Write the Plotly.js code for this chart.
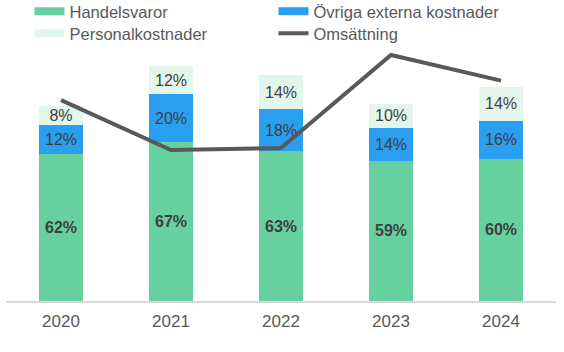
<!DOCTYPE html>
<html>
<head>
<meta charset="utf-8">
<script src="https://cdn.plot.ly/plotly-3.0.1.min.js"></script>
<style>html,body{margin:0;padding:0;background:#fff;}#chart{width:564px;height:352px;}</style>
</head>
<body>
<div id="chart"></div>
<script>
// Data
const years = ['2020', '2021', '2022', '2023', '2024'];
const handelsvaror = [62, 67, 63, 59, 60];          // % of revenue
const ovrigaExterna = [12, 20, 18, 14, 16];         // % of revenue
const personalkostnader = [8, 12, 14, 10, 14];      // % of revenue
const omsattning = [84.6, 63.6, 64.4, 103.6, 92.8]; // revenue (relative scale, secondary axis)

const cGreen = '#66D19E';
const cBlue = '#2B9FEF';
const cLight = '#E2F6EC';
const cLine = '#595959';
const txt = '#404040';
const FONT = 'Liberation Sans, Arial, sans-serif';

const pct = a => a.map(v => v + '%');

function barTrace(name, vals, color, bold) {
  return {
    type: 'bar', name: name, x: years, y: vals,
    marker: {color: color, line: {width: 0}},
    text: pct(vals), textposition: 'inside', insidetextanchor: 'middle',
    textangle: 0, constraintext: 'none',
    textfont: {family: FONT, size: 16, color: txt, weight: bold ? 'bold' : 'normal'},
    showlegend: false, hoverinfo: 'x+y+name'
  };
}

const traces = [
  barTrace('Handelsvaror', handelsvaror, cGreen, true),
  barTrace('Övriga externa kostnader', ovrigaExterna, cBlue, false),
  barTrace('Personalkostnader', personalkostnader, cLight, false),
  {
    type: 'scatter', mode: 'lines', name: 'Omsättning', x: years, y: omsattning,
    yaxis: 'y2', line: {color: cLine, width: 4}, showlegend: false
  },
  // legend entries (Excel-style wide swatches), two rows
  {type: 'scatter', mode: 'lines', name: 'Handelsvaror', x: [null], y: [null], line: {color: cGreen, width: 8}, legend: 'legend'},
  {type: 'scatter', mode: 'lines', name: 'Övriga externa kostnader', x: [null], y: [null], line: {color: cBlue, width: 8}, legend: 'legend'},
  {type: 'scatter', mode: 'lines', name: 'Personalkostnader', x: [null], y: [null], line: {color: cLight, width: 8}, legend: 'legend2'},
  {type: 'scatter', mode: 'lines', name: 'Omsättning', x: [null], y: [null], line: {color: cLine, width: 4}, legend: 'legend2'}
];

const plotTop = 0, plotBottom = 301, plotL = 5.5, plotR = 555.7;
const pxPerPct = 2.375;
const plotH = plotBottom - plotTop, plotW = plotR - plotL;

function legendAt(leftPx, topPx) {
  return {
    orientation: 'h', xref: 'paper', yref: 'paper',
    x: (leftPx - plotL) / plotW, y: (plotBottom - topPx) / plotH,
    xanchor: 'left', yanchor: 'top',
    entrywidth: 199, entrywidthmode: 'pixels',
    traceorder: 'normal', bgcolor: 'rgba(0,0,0,0)',
    font: {family: FONT, size: 16.5, color: '#595959'}
  };
}

const layout = {
  width: 564, height: 352,
  margin: {l: plotL, r: 564 - plotR, t: plotTop, b: 352 - plotBottom, autoexpand: false},
  paper_bgcolor: '#fff', plot_bgcolor: '#fff',
  barmode: 'stack', bargap: 0.6,
  font: {family: FONT, color: '#595959'},
  xaxis: {
    type: 'category', showline: true, linecolor: '#d9d9d9', linewidth: 2,
    ticks: '', showgrid: false, zeroline: false, ticklabelstandoff: 4,
    tickfont: {family: FONT, size: 17, color: '#595959'}
  },
  yaxis: {visible: false, range: [0, plotH / pxPerPct], showgrid: false, zeroline: false, fixedrange: true},
  yaxis2: {visible: false, overlaying: 'y', range: [0, plotH / pxPerPct], showgrid: false, zeroline: false, fixedrange: true},
  showlegend: true,
  legend: legendAt(29, -6),
  legend2: legendAt(29, 16)
};

Plotly.newPlot('chart', traces, layout, {displayModeBar: false, staticPlot: true});
</script>
</body>
</html>
